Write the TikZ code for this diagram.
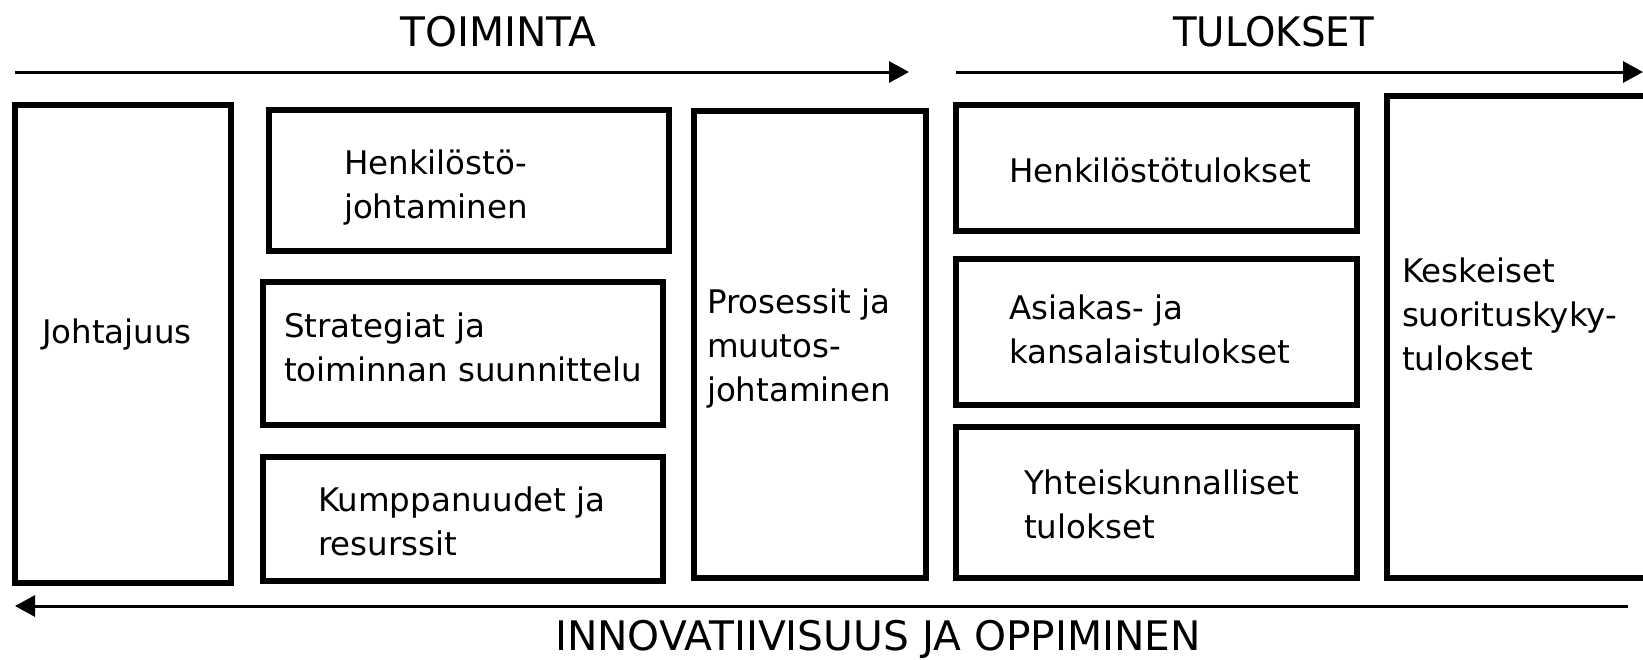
\documentclass[tikz,border=0pt]{standalone}
\usepackage{fontspec}
\setmainfont{DejaVu Sans}
\usetikzlibrary{arrows.meta}
\begin{document}
\begin{tikzpicture}[x=1pt,y=-1pt,
  box/.style={draw=black, line width=6pt, inner sep=0pt, outer sep=0pt, anchor=north west},
  lbl/.style={inner sep=0pt, outer sep=0pt, anchor=base west, align=left, font=\fontsize{32.5}{44}\selectfont},
  title/.style={inner sep=0pt, outer sep=0pt, anchor=base, font=\fontsize{40.7}{49}\selectfont},
  flow/.style={line width=3pt, -{Triangle[length=20pt,width=21pt]}}]
\useasboundingbox (0,0) rectangle (1643,659);
% boxes
\node[box, minimum width=216pt, minimum height=478pt] (bJoh) at (15,105) {};
\node[box, minimum width=400.5pt, minimum height=141pt] (bHen) at (268.5,110) {};
\node[box, minimum width=400pt, minimum height=143pt] (bStr) at (263,282) {};
\node[box, minimum width=400pt, minimum height=124pt] (bKum) at (263,457) {};
\node[box, minimum width=231.5pt, minimum height=467pt] (bPro) at (694,111) {};
\node[box, minimum width=401pt, minimum height=126.5pt] (bHtu) at (956,104.5) {};
\node[box, minimum width=401pt, minimum height=146pt] (bAsi) at (956,259) {};
\node[box, minimum width=401pt, minimum height=151pt] (bYht) at (956,427) {};
\node[box, minimum width=280pt, minimum height=482.5pt] (bKes) at (1386.5,95.5) {};
% labels (anchor = baseline of the last line)
\node[lbl] (tJoh) at (42,343) {Johtajuus};
\node[lbl] (tHen) at (344,218) {Henkilöstö-\\johtaminen};
\node[lbl] (tStr) at (284,381) {Strategiat ja\\toiminnan suunnittelu};
\node[lbl] (tKum) at (318,555) {Kumppanuudet ja\\resurssit};
\node[lbl] (tPro) at (707,401) {Prosessit ja\\muutos-\\johtaminen};
\node[lbl] (tHtu) at (1009,182) {Henkilöstötulokset};
\node[lbl] (tAsi) at (1009,363) {Asiakas- ja\\kansalaistulokset};
\node[lbl] (tYht) at (1024,538) {Yhteiskunnalliset\\tulokset};
\node[lbl] (tKes) at (1402,370) {Keskeiset\\suorituskyky-\\tulokset};
% titles
\node[title] (tToim) at (498.5,46) {TOIMINTA};
\node[title, xscale=0.95] (tTulo) at (1273.5,46) {TULOKSET};
\node[title] (tInno) at (878,650) {INNOVATIIVISUUS JA OPPIMINEN};
% arrows
\coordinate (a1s) at (15,72);
\coordinate (a1e) at (909,72);
\coordinate (a2s) at (956,72);
\coordinate (a2e) at (1643,72);
\coordinate (a3s) at (1628,606);
\coordinate (a3e) at (15,606);
\draw[flow] (a1s) -- (a1e);
\draw[flow] (a2s) -- (a2e);
\draw[flow] (a3s) -- (a3e);
\end{tikzpicture}
\end{document}
